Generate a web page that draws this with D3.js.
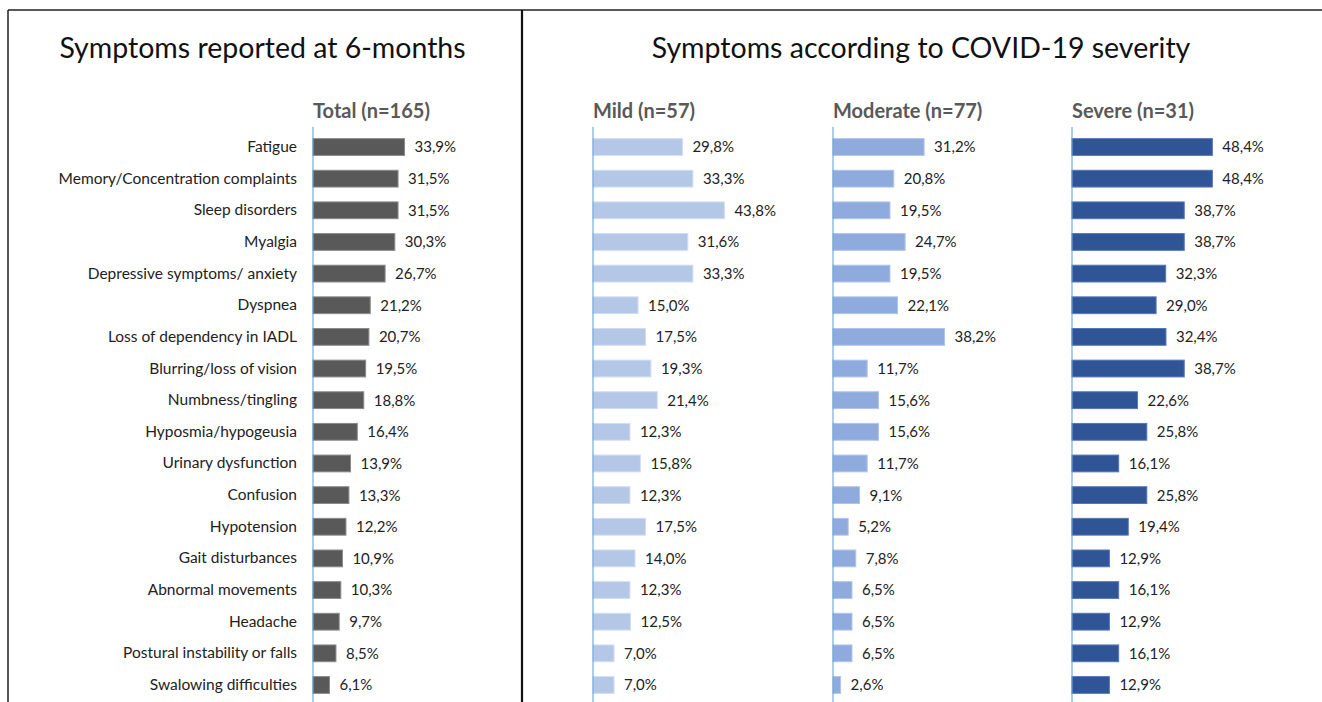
<!DOCTYPE html>
<html><head><meta charset="utf-8">
<script src="https://cdn.jsdelivr.net/npm/d3@7"></script>
<style>body{margin:0;background:#fff}svg{display:block}text{font-family:Lato,"Open Sans",sans-serif}</style>
</head><body><svg id="c" width="1322" height="702"></svg>
<script>
const categories = ["Fatigue","Memory/Concentration complaints","Sleep disorders","Myalgia","Depressive symptoms/ anxiety","Dyspnea","Loss of dependency in IADL","Blurring/loss of vision","Numbness/tingling","Hyposmia/hypogeusia","Urinary dysfunction","Confusion","Hypotension","Gait disturbances","Abnormal movements","Headache","Postural instability or falls","Swalowing difficulties"];
const totalValues = [33.9,31.5,31.5,30.3,26.7,21.2,20.7,19.5,18.8,16.4,13.9,13.3,12.2,10.9,10.3,9.7,8.5,6.1];
const mildValues = [29.8,33.3,43.8,31.6,33.3,15.0,17.5,19.3,21.4,12.3,15.8,12.3,17.5,14.0,12.3,12.5,7.0,7.0];
const moderateValues = [31.2,20.8,19.5,24.7,19.5,22.1,38.2,11.7,15.6,15.6,11.7,9.1,5.2,7.8,6.5,6.5,6.5,2.6];
const severeValues = [48.4,48.4,38.7,38.7,32.3,29.0,32.4,38.7,22.6,25.8,16.1,25.8,19.4,12.9,16.1,12.9,16.1,12.9];
const panelTitles = ["Total (n=165)","Mild (n=57)","Moderate (n=77)","Severe (n=31)"];
const sectionTitles = ["Symptoms reported at 6-months","Symptoms according to COVID-19 severity"];

const svg = d3.select("#c");
const fmt = v => v.toFixed(1).replace(".", ",") + "%";

// frame
svg.append("line").attr("x1",8).attr("x2",1322).attr("y1",10).attr("y2",10).attr("stroke","#222").attr("stroke-width",1.5);
svg.append("line").attr("x1",8).attr("x2",8).attr("y1",10).attr("y2",702).attr("stroke","#222").attr("stroke-width",1.5);
svg.append("line").attr("x1",522).attr("x2",522).attr("y1",10).attr("y2",702).attr("stroke","#111").attr("stroke-width",2.2);

svg.append("text").attr("x",262.5).attr("y",58).attr("text-anchor","middle").attr("font-size",28.5).attr("fill","#111").text(sectionTitles[0]);
svg.append("text").attr("x",921).attr("y",58).attr("text-anchor","middle").attr("font-size",28.5).attr("fill","#111").text(sectionTitles[1]);

const y = d3.scaleBand().domain(categories).range([131.2, 700.8]).paddingInner(0.47).paddingOuter(0.235);

const panels = [
  {x0:313, k:2.7, values:totalValues, fill:"#595959", stroke:"#8a8a8a"},
  {x0:593, k:3.0, values:mildValues, fill:"#b4c7e7", stroke:"#d0ddf2"},
  {x0:833, k:2.92, values:moderateValues, fill:"#8faadc", stroke:"#b0c4ea"},
  {x0:1072, k:2.9, values:severeValues, fill:"#2f5597", stroke:"#5577b5"}
];

panels.forEach((p, i) => {
  const x = d3.scaleLinear().domain([0, 50]).range([p.x0, p.x0 + 50 * p.k]);
  const g = svg.append("g");
  g.append("text").attr("x", p.x0).attr("y", 118).attr("font-size", 20).attr("font-weight", "bold").attr("fill", "#595959").text(panelTitles[i]);
  g.selectAll("rect").data(p.values).join("rect")
    .attr("x", x(0)).attr("y", (d, j) => y(categories[j]))
    .attr("width", d => x(d) - x(0)).attr("height", y.bandwidth())
    .attr("fill", p.fill).attr("stroke", p.stroke).attr("stroke-width", 1);
  g.selectAll("text.v").data(p.values).join("text").attr("class", "v")
    .attr("x", d => x(d) + 10).attr("y", (d, j) => y(categories[j]) + y.bandwidth() / 2)
    .attr("dy", "0.36em").attr("font-size", 15).attr("fill", "#222").text(fmt);
  const axis = d3.axisLeft(y).tickSize(0).tickFormat(i === 0 ? (d => d) : (() => ""));
  const ag = g.append("g").attr("transform", `translate(${p.x0},0)`).call(axis);
  ag.select(".domain").attr("stroke", "#5b9bd5").attr("stroke-width", 1).attr("d", `M0,127V702`);
  ag.selectAll(".tick text").attr("x", -16).attr("font-size", 15.5).attr("fill", "#222").attr("font-family", "Lato,'Open Sans',sans-serif");
});
</script></body></html>
